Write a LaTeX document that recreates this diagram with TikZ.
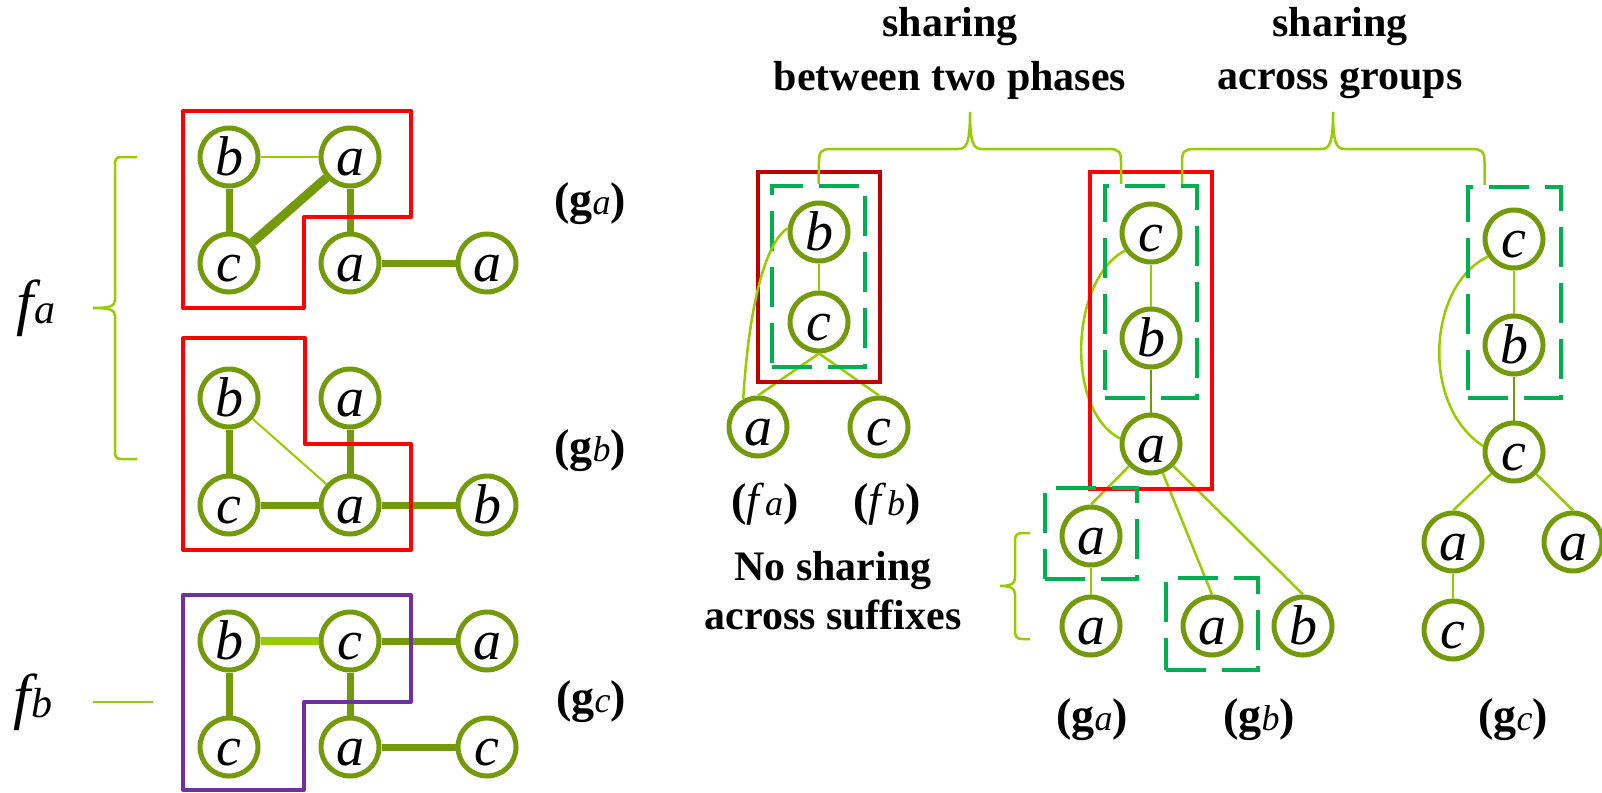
\documentclass[tikz,border=0pt]{standalone}
\usepackage{fontspec}
\setmainfont{Liberation Serif}
\usetikzlibrary{calc}

\definecolor{vgolive}{HTML}{739A0A}
\definecolor{vglime}{HTML}{99CC00}
\definecolor{vgred}{HTML}{FF0000}
\definecolor{vgdarkred}{HTML}{C00000}
\definecolor{vgpurple}{HTML}{7030A0}
\definecolor{vgdash}{HTML}{00B050}

% small italic index letter used in labels
\newcommand\idx[2]{{\fontsize{#1}{#1}\selectfont\mdseries\itshape #2}}

\tikzset{
  vtx/.style={circle, draw=vgolive, line width=5pt, fill=white,
    minimum size=58pt, inner sep=0pt,
    font=\fontsize{56}{56}\selectfont\itshape, text height=37pt, text depth=0pt},
  heavy/.style={draw=vgolive, line width=7pt},
  heavier/.style={draw=vgolive, line width=9pt},
  light/.style={draw=vglime, line width=2pt},
  brightheavy/.style={draw=vglime, line width=8pt},
  treeedge/.style={draw=vglime, line width=2.5pt},
  treeolive/.style={draw=vgolive, line width=2.5pt},
  region/.style={line width=4pt, line join=round},
  groupbox/.style={draw=vgdash, line width=4.5pt, dash pattern=on 40pt off 16pt,
    rectangle, inner sep=0pt},
  phasebox/.style={rectangle, line width=4pt, inner sep=0pt},
  brace/.style={draw=vglime, line width=2.5pt},
  caption/.style={font=\fontsize{42}{42}\selectfont\bfseries, anchor=base},
  glabel/.style={font=\fontsize{46}{46}\selectfont\bfseries, anchor=base},
}

\begin{document}
\begin{tikzpicture}[x=1pt, y=-1pt]
\fill[white] (0,0) rectangle (1602,792);
\useasboundingbox (0,0) rectangle (1602,792);

% ---------------- left: the three graphs ----------------
% graph g_a
\node[vtx] (A1b) at (229,157) {b};
\node[vtx] (A1a) at (350,157) {a};
\node[vtx] (A1c) at (229,263) {c};
\node[vtx] (A1d) at (350,263) {a};
\node[vtx] (A1e) at (487,263) {a};
\draw[light] (A1b) -- (A1a);
\draw[heavy] (A1b) -- (A1c);
\draw[heavier] (A1c) -- (A1a);
\draw[heavy] (A1a) -- (A1d);
\draw[heavy] (A1d) -- (A1e);
\draw[region, draw=vgred] (183,111) -- (411,111) -- (411,217) -- (304,217)
  -- (304,308) -- (183,308) -- cycle;

% graph g_b
\node[vtx] (A2b) at (229,398) {b};
\node[vtx] (A2a) at (350,398) {a};
\node[vtx] (A2c) at (229,505) {c};
\node[vtx] (A2d) at (350,505) {a};
\node[vtx] (A2e) at (487,505) {b};
\draw[heavy] (A2b) -- (A2c);
\draw[light] (A2b) -- (A2d);
\draw[heavy] (A2c) -- (A2d);
\draw[heavy] (A2a) -- (A2d);
\draw[heavy] (A2d) -- (A2e);
\draw[region, draw=vgred] (183,338) -- (305,338) -- (305,444) -- (411,444)
  -- (411,550) -- (183,550) -- cycle;

% graph g_c
\node[vtx] (A3b) at (229,641) {b};
\node[vtx] (A3c) at (350,641) {c};
\node[vtx] (A3a) at (487,641) {a};
\node[vtx] (A3d) at (229,747) {c};
\node[vtx] (A3e) at (350,747) {a};
\node[vtx] (A3f) at (487,747) {c};
\draw[brightheavy] (A3b) -- (A3c);
\draw[heavy] (A3c) -- (A3a);
\draw[heavy] (A3b) -- (A3d);
\draw[heavy] (A3c) -- (A3e);
\draw[heavy] (A3e) -- (A3f);
\draw[region, draw=vgpurple] (183,595) -- (411,595) -- (411,702) -- (304,702)
  -- (304,790) -- (183,790) -- cycle;

% graph labels
\node[glabel] (LgA) at (590,214) {(g\idx{36}{a})};
\node[glabel] (LgB) at (590,461) {(g\idx{36}{b})};
\node[glabel] (LgC) at (591,712) {(g\idx{36}{c})};

% function labels and their braces
\node[anchor=base, font=\fontsize{62}{62}\selectfont\itshape] (Lfa) at (36,323) {f\idx{42}{a}};
\node[anchor=base, font=\fontsize{62}{62}\selectfont\itshape] (Lfb) at (33,717) {f\idx{42}{b}};
\draw[brace] (137,157) -- (122,157) .. controls (116,157) and (115,159) .. (115,165)
  -- (115,300) .. controls (115,306) and (110,308) .. (93,308)
  .. controls (110,308) and (115,310) .. (115,316)
  -- (115,451) .. controls (115,457) and (116,459) .. (122,459) -- (137,459);
\coordinate (FbL) at (93,702);
\coordinate (FbR) at (153,702);
\draw[brace] (FbL) -- (FbR);

% ---------------- right: the trees ----------------
% tree for f_a / f_b
\node[vtx] (T1b) at (819,232) {b};
\node[vtx] (T1c) at (819,322) {c};
\node[vtx] (T1a) at (758,427) {a};
\node[vtx] (T1d) at (879,427) {c};
\draw[treeedge] (T1b) -- (T1c);
\draw[treeedge] (T1c.south) -- (T1a.north);
\draw[treeedge] (T1c.south) -- (T1d.north);
\node[phasebox, draw=vgdarkred, minimum width=122pt, minimum height=210pt] (T1red) at (819,277) {};
\node[groupbox, minimum width=93pt, minimum height=181pt] (T1box) at (818.5,276.5) {};
\draw[treeedge] (T1b.173) .. controls (762,245) and (748,320) .. (T1a.118);

\node[glabel] (Lfa2) at (765,515) {(\textmd{\itshape f}\idx{36}{a})};
\node[glabel] (Lfb2) at (887,515) {(\textmd{\itshape f}\idx{36}{b})};
\node[caption] (NoSh1) at (833,580) {No sharing};
\node[caption] (NoSh2) at (833,629) {across suffixes};

% tree for g_a / g_b
\node[vtx] (T2c) at (1151,233) {c};
\node[vtx] (T2b) at (1151,338) {b};
\node[vtx] (T2a) at (1151,444) {a};
\node[vtx] (T2d) at (1091,536) {a};
\node[vtx] (T2e) at (1091,626) {a};
\node[vtx] (T2f) at (1212,626) {a};
\node[vtx] (T2g) at (1303,626) {b};
\draw[treeedge] (T2c) -- (T2b);
\draw[treeolive] (T2b) -- (T2a);
\draw[treeedge] (T2a) -- (T2d.north);
\draw[treeedge] (T2d) -- (T2e);
\draw[treeedge] (T2a) -- (T2f.north);
\draw[treeedge] (T2a) -- (T2g.north);
\draw[treeedge] (T2c.214) .. controls (1070,280) and (1065,410) .. (T2a.170);
\node[phasebox, draw=vgred, minimum width=122pt, minimum height=317pt] (T2red) at (1151,330.5) {};
\node[groupbox, minimum width=92pt, minimum height=212pt] (T2box) at (1151,292) {};
\node[groupbox, minimum width=92pt, minimum height=91pt] (T2boxA) at (1091,533.5) {};
\node[groupbox, minimum width=92pt, minimum height=92pt] (T2boxB) at (1212,624) {};
\draw[brace] (1030,533) -- (1022,533) .. controls (1016,533) and (1015,536) .. (1015,542)
  -- (1015,578) .. controls (1015,584) and (1010,586) .. (1000,586)
  .. controls (1010,586) and (1015,588) .. (1015,594)
  -- (1015,630) .. controls (1015,636) and (1016,639) .. (1022,639) -- (1030,639);

\node[glabel] (RgA) at (1092,730) {(g\idx{36}{a})};
\node[glabel] (RgB) at (1259,730) {(g\idx{36}{b})};

% tree for g_c
\node[vtx] (T3c) at (1514,239) {c};
\node[vtx] (T3b) at (1514,345) {b};
\node[vtx] (T3d) at (1514,452) {c};
\node[vtx] (T3a) at (1453,542) {a};
\node[vtx] (T3e) at (1573,542) {a};
\node[vtx] (T3f) at (1453,630) {c};
\draw[treeedge] (T3c) -- (T3b);
\draw[treeolive] (T3b) -- (T3d);
\draw[treeedge] (T3d) -- (T3a.north);
\draw[treeedge] (T3d) -- (T3e.north);
\draw[treeedge] (T3a) -- (T3f);
\draw[treeedge] (T3c.214) .. controls (1428,285) and (1420,405) .. (T3d.169);
\node[groupbox, minimum width=93pt, minimum height=211pt] (T3box) at (1514.5,292.5) {};

\node[glabel] (RgC) at (1513,730) {(g\idx{36}{c})};

% ---------------- top captions and braces ----------------
\node[caption] (Cap1a) at (950,37) {sharing};
\node[caption] (Cap1b) at (950,90) {between two phases};
\node[caption] (Cap2a) at (1340,37) {sharing};
\node[caption] (Cap2b) at (1340,89) {across groups};

\coordinate (B1l) at (T1box.north);
\coordinate (B1r) at ($(T2box.north)+(-30,0)$);
\coordinate (B2l) at ($(T2box.north)+(31,0)$);
\coordinate (B2r) at ($(T3box.north)+(-30,0)$);
\draw[brace] (B1l) -- (819,162) .. controls (819,152) and (821,149) .. (831,149)
  -- (958,149) .. controls (966,149) and (970,145) .. (970,112)
  .. controls (970,145) and (974,149) .. (982,149)
  -- (1109,149) .. controls (1119,149) and (1121,152) .. (1121,162) -- (B1r);
\draw[brace] (B2l) -- (1182,162) .. controls (1182,152) and (1184,149) .. (1194,149)
  -- (1321,149) .. controls (1329,149) and (1333,145) .. (1333,112)
  .. controls (1333,145) and (1337,149) .. (1345,149)
  -- (1472,149) .. controls (1482,149) and (1484.5,152) .. (1484.5,162) -- (B2r);
\end{tikzpicture}
\end{document}
